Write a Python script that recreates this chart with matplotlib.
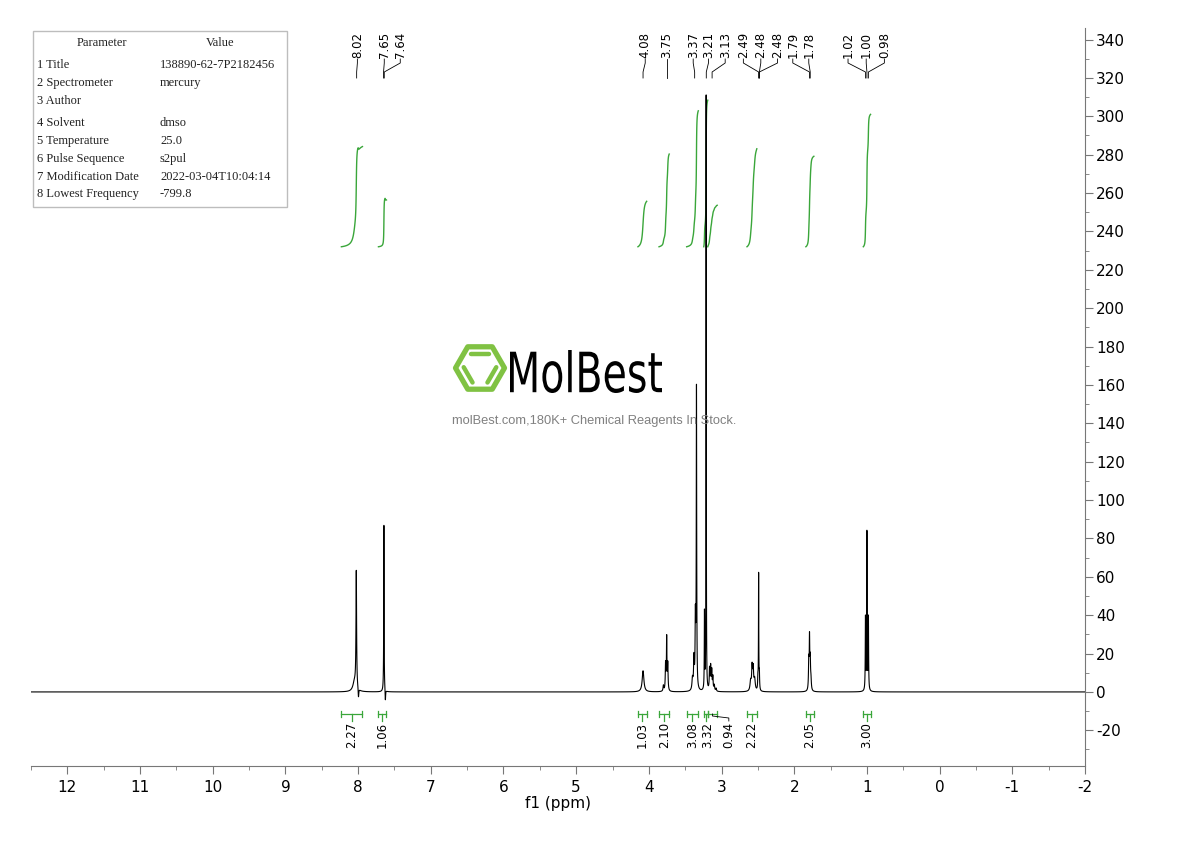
import numpy as np
import matplotlib
matplotlib.use("Agg")
import matplotlib.pyplot as plt
from matplotlib import font_manager
from matplotlib.patches import PathPatch, Polygon, Rectangle
from matplotlib.textpath import TextPath
from matplotlib.font_manager import FontProperties
from matplotlib.transforms import Affine2D, IdentityTransform, blended_transform_factory
from matplotlib.ticker import MultipleLocator

W, H = 1190, 841

# ---- spectrum lines: shift (ppm), height, half width (ppm)
line_ppm = [8.05, 8.025, 7.995, 7.645, 7.625,
            4.08,
            3.80, 3.77, 3.755, 3.74,
            3.40, 3.38, 3.36, 3.345,
            3.235, 3.212,
            3.165, 3.15, 3.135, 3.12, 3.10, 3.075,
            2.60, 2.58, 2.565, 2.545, 2.50, 2.49, 2.48,
            1.80, 1.79, 1.78, 1.77,
            1.02, 1.00, 0.98]
line_height = [5, 61, -5, 87, -6,
               11,
               3, 14, 27, 14,
               6, 16, 36, 156,
               40, 310,
               11, 12, 10, 7, 3, 1.5,
               5, 12, 11, 6, 6, 60, 8,
               15, 25, 15, 5,
               38, 82, 38]
line_hw = [0.025, 0.005, 0.005, 0.003, 0.004,
           0.014,
           0.006, 0.005, 0.004, 0.005,
           0.008, 0.006, 0.005, 0.0035,
           0.003, 0.0022,
           0.005, 0.005, 0.005, 0.005, 0.006, 0.006,
           0.010, 0.007, 0.007, 0.010, 0.004, 0.0025, 0.004,
           0.005, 0.004, 0.005, 0.006,
           0.0035, 0.003, 0.0035]

# ---- peak picking labels
peak_labels = ["8.02", "7.65", "7.64", "4.08", "3.75", "3.37", "3.21", "3.13",
               "2.49", "2.48", "2.48", "1.79", "1.78", "1.02", "1.00", "0.98"]
peak_label_ppm = [8.01, 7.64, 7.42, 4.05, 3.75, 3.39, 3.18, 2.95,
                  2.70, 2.46, 2.23, 2.02, 1.80, 1.26, 1.01, 0.76]

# ---- integrals: start, end (ppm), value
int_start = [8.23, 7.72, 4.15, 3.86, 3.48, 3.245, 3.19, 2.65, 1.84, 1.05]
int_end = [7.94, 7.61, 4.03, 3.72, 3.32, 3.19, 3.06, 2.515, 1.73, 0.95]
int_value = [2.27, 1.06, 1.03, 2.10, 3.08, 3.32, 0.94, 2.22, 2.05, 3.00]
int_label_ppm = [None, None, None, None, None, 3.19, 2.90, None, None, None]
int_scale = 23.0
int_base = 232.0

params = [("1 Title", "138890-62-7P2182456"),
          ("2 Spectrometer", "mercury"),
          ("3 Author", ""),
          ("4 Solvent", "dmso"),
          ("5 Temperature", "25.0"),
          ("6 Pulse Sequence", "s2pul"),
          ("7 Modification Date", "2022-03-04T10:04:14"),
          ("8 Lowest Frequency", "-799.8")]

green = "#3aa63a"
plt.rcParams["axes.unicode_minus"] = False
plt.rcParams["path.simplify"] = False

available = {f.name for f in font_manager.fontManager.ttflist}
if "Liberation Sans Narrow" in available:
    narrow, nsize = "Liberation Sans Narrow", 9.5
else:
    narrow, nsize = "DejaVu Sans", 7.5


def fx(px):
    return px / W


def fy(py):
    return 1 - py / H


def spectrum(x):
    y = np.zeros_like(x)
    for c, h, w in zip(line_ppm, line_height, line_hw):
        y += h / (1 + ((x - c) / w) ** 2)
    return y


x = np.union1d(np.arange(-2.0, 12.5, 0.0005), np.array(line_ppm))[::-1]
y = spectrum(x)

fig = plt.figure(figsize=(W / 100, H / 100), dpi=100)
ax = fig.add_axes([fx(31), fy(766), fx(1085) - fx(31), fy(28) - fy(766)])
ax.patch.set_alpha(0)
ax.plot(x, y, color="black", lw=0.8, zorder=3)
ax.set_xlim(12.5, -2)
ax.set_ylim(-38.6, 346)

for s in ["left", "top"]:
    ax.spines[s].set_visible(False)
for s in ["bottom", "right"]:
    ax.spines[s].set_color("#777777")
ax.yaxis.tick_right()
ax.xaxis.set_major_locator(MultipleLocator(1))
ax.xaxis.set_minor_locator(MultipleLocator(0.5))
ax.yaxis.set_major_locator(MultipleLocator(20))
ax.yaxis.set_minor_locator(MultipleLocator(10))
ax.tick_params(axis="x", which="major", length=6, color="#777777", labelsize=11, pad=4)
ax.tick_params(axis="x", which="minor", length=3, color="#777777")
ax.tick_params(axis="y", which="major", length=6, color="#777777", labelsize=11, pad=2)
ax.tick_params(axis="y", which="minor", length=3, color="#777777")
for lab in ax.get_xticklabels():
    lab.set_family(narrow)
ax.set_xlabel("f1 (ppm)", fontsize=11, labelpad=1)

# integral curves and brackets
tb = blended_transform_factory(ax.transData, fig.transFigure)
for i, (a, b, v) in enumerate(zip(int_start, int_end, int_value)):
    xi = np.linspace(a, b, 800)
    yi = spectrum(xi)
    cum = np.concatenate([[0], np.cumsum((yi[1:] + yi[:-1]) / 2 * np.abs(np.diff(xi)))])
    cum = cum / cum[-1] * v * int_scale
    ax.plot(xi, int_base + cum, color=green, lw=1.0, zorder=2)

    mid = (a + b) / 2
    ax.plot([a, b], [fy(714)] * 2, color=green, lw=0.9, transform=tb, clip_on=False)
    for e in (a, b):
        ax.plot([e, e], [fy(711), fy(717)], color=green, lw=0.9, transform=tb, clip_on=False)
    lx = int_label_ppm[i] if int_label_ppm[i] is not None else mid
    if i == 6:
        ax.plot([mid, mid, lx, lx], [fy(714), fy(716), fy(718), fy(721)],
                color="black", lw=0.6, transform=tb, clip_on=False)
    else:
        ax.plot([mid, mid], [fy(714), fy(721)], color=green, lw=0.9,
                transform=tb, clip_on=False)
    ax.text(lx, fy(722), f"{v:.2f}", rotation=90, ha="center", va="top",
            family=narrow, fontsize=nsize + 1, transform=tb)

# peak labels at top
peak_ppm = [float(p) for p in peak_labels]
for lab, p, lp in zip(peak_labels, peak_ppm, peak_label_ppm):
    ax.text(lp, fy(58), lab, rotation=90, ha="center", va="bottom",
            family=narrow, fontsize=nsize + 1, transform=tb)
    ax.plot([lp, lp, p, p], [fy(59), fy(63), fy(72), fy(78)],
            color="black", lw=0.6, transform=tb, clip_on=False)

# parameter table
fig.patches.append(Rectangle((fx(33), fy(207)), fx(287) - fx(33), fy(31) - fy(207),
                             transform=fig.transFigure, fill=False,
                             edgecolor="#bdbdbd", lw=1.0))
tfont = dict(family="Liberation Serif", fontsize=9, va="center", color="#222222")
fig.text(fx(102), fy(43), "Parameter", ha="center", **tfont)
fig.text(fx(220), fy(43), "Value", ha="center", **tfont)
row_y = [65, 83, 101, 123, 141, 159, 177, 194]
for (k, v), ry in zip(params, row_y):
    fig.text(fx(37), fy(ry), k, ha="left", **tfont)
    fig.text(fx(160), fy(ry), v, ha="left", **tfont)

# watermark logo
cx, cy, r = 480, H - 368, 24.5
ang = np.radians(np.arange(0, 360, 60))
hexv = np.column_stack([cx + r * np.cos(ang), cy + r * np.sin(ang)])
logo_green = "#80c243"
ax.add_patch(Polygon(hexv, closed=True, fill=False, edgecolor=logo_green, lw=3.8,
                     transform=IdentityTransform(), zorder=1, joinstyle="round"))
for e0, e1 in [(1, 2), (3, 4), (5, 0)]:
    p0, p1 = hexv[e0], hexv[e1]
    m = (p0 + p1) / 2
    inward = np.array([cx, cy]) - m
    inward = inward / np.linalg.norm(inward) * 7.5
    d = (p1 - p0) * 0.36
    q0, q1 = m + inward - d, m + inward + d
    ax.plot([q0[0], q1[0]], [q0[1], q1[1]], color=logo_green, lw=3.2,
            solid_capstyle="round", transform=IdentityTransform(), zorder=1)

tp = TextPath((0, 0), "MolBest", size=50, prop=FontProperties(family="DejaVu Sans"))
ext = tp.get_extents()
sx = 152 / ext.width
sy = 43 / ext.height
tr = Affine2D().translate(-ext.x0, -ext.y0).scale(sx, sy).translate(510, H - 393)
ax.add_patch(PathPatch(tp, transform=tr, facecolor="black", edgecolor="none", zorder=1))
fig.text(fx(594), fy(421), "molBest.com,180K+ Chemical Reagents In Stock.",
         ha="center", va="center", fontsize=9.3, color="#808080",
         family="Liberation Sans", zorder=0)

fig.savefig("out.png", dpi=100)
